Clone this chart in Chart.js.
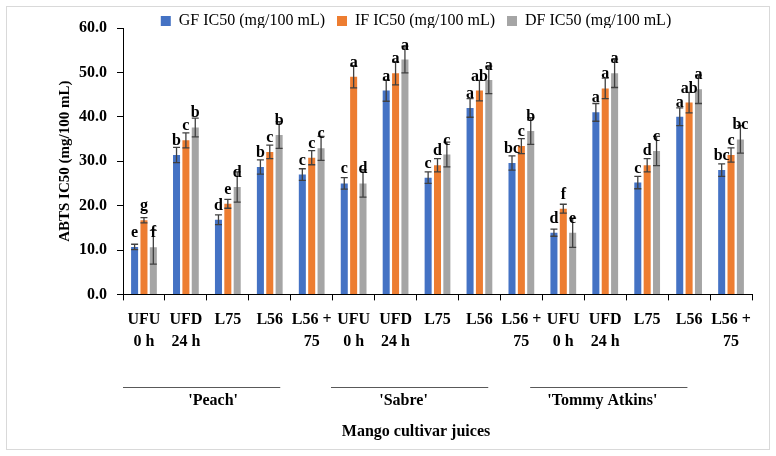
<!DOCTYPE html>
<html>
<head>
<meta charset="utf-8">
<script src="https://cdn.jsdelivr.net/npm/chart.js@4/dist/chart.umd.min.js"></script>
<style>
  html, body { margin: 0; padding: 0; background: #ffffff; }
  #wrap { width: 776px; height: 456px; position: relative; }
</style>
</head>
<body>
<div id="wrap"><canvas id="c" width="776" height="456"></canvas></div>
<script>
// ---- Data ----
const categories = [
  ['UFU', '0 h'], ['UFD', '24 h'], 'L75', 'L56', ['L56 +', '75'],
  ['UFU', '0 h'], ['UFD', '24 h'], 'L75', 'L56', ['L56 +', '75'],
  ['UFU', '0 h'], ['UFD', '24 h'], 'L75', 'L56', ['L56 +', '75']
];
const cultivars = ["'Peach'", "'Sabre'", "'Tommy Atkins'"];
const seriesNames = ['GF IC50 (mg/100 mL)', 'IF IC50 (mg/100 mL)', 'DF IC50 (mg/100 mL)'];

const gfValues = [10.7, 31.4, 16.8, 28.7, 27.0, 25.0, 45.9, 26.3, 42.0, 29.6, 13.9, 41.0, 25.2, 40.0, 28.0];
const ifValues = [16.7, 34.7, 20.4, 32.1, 30.8, 49.0, 49.8, 29.1, 45.9, 33.4, 19.3, 46.4, 29.1, 43.2, 31.4];
const dfValues = [10.6, 37.6, 24.2, 35.9, 32.9, 25.0, 52.9, 31.5, 48.3, 36.8, 13.9, 49.8, 32.3, 46.2, 34.9];

const gfErrors = [0.6, 1.7, 1.1, 1.6, 1.3, 1.3, 2.4, 1.3, 2.1, 1.6, 0.8, 2.0, 1.4, 2.0, 1.4];
const ifErrors = [0.6, 1.7, 1.0, 1.5, 1.6, 2.5, 2.6, 1.5, 2.3, 1.7, 1.0, 2.3, 1.5, 2.3, 1.6];
const dfErrors = [3.8, 2.1, 3.4, 3.0, 2.7, 3.1, 3.0, 2.8, 3.1, 3.0, 3.3, 3.2, 3.3, 3.2, 3.1];

const gfLetters = ['e', 'b', 'd', 'b', 'c', 'c', 'a', 'c', 'a', 'bc', 'd', 'a', 'c', 'a', 'bc'];
const ifLetters = ['g', 'c', 'e', 'c', 'c', 'a', 'a', 'd', 'ab', 'c', 'f', 'a', 'd', 'ab', 'c'];
const dfLetters = ['f', 'b', 'd', 'b', 'c', 'd', 'a', 'c', 'a', 'b', 'e', 'a', 'c', 'a', 'bc'];

const yTicks = [0, 10, 20, 30, 40, 50, 60];

// ---- Styling ----
const FONT = "'Liberation Serif', 'Times New Roman', serif";
Chart.defaults.font.family = FONT;
Chart.defaults.color = '#000000';

const errorSets = [gfErrors, ifErrors, dfErrors];
const letterSets = [gfLetters, ifLetters, dfLetters];

// Frame + white background
const framePlugin = {
  id: 'frame',
  beforeDraw(chart) {
    const ctx = chart.ctx;
    ctx.save();
    ctx.fillStyle = '#ffffff';
    ctx.fillRect(0, 0, chart.width, chart.height);
    ctx.strokeStyle = '#d9d9d9';
    ctx.lineWidth = 1;
    ctx.strokeRect(6.5, 6.5, chart.width - 13, chart.height - 13);
    ctx.restore();
  }
};

// Error bars and significance letters, positioned through the chart's scales
const errorPlugin = {
  id: 'errorBars',
  afterDatasetsDraw(chart) {
    const ctx = chart.ctx;
    const yScale = chart.scales.y;
    ctx.save();
    chart.data.datasets.forEach((ds, di) => {
      const meta = chart.getDatasetMeta(di);
      meta.data.forEach((bar, i) => {
        const v = ds.data[i];
        const e = errorSets[di][i];
        const x = bar.x;
        const yHi = yScale.getPixelForValue(v + e);
        const yLo = yScale.getPixelForValue(v - e);
        ctx.strokeStyle = '#404040';
        ctx.lineWidth = 1.3;
        ctx.beginPath();
        ctx.moveTo(x, yHi); ctx.lineTo(x, yLo);
        ctx.moveTo(x - 3.5, yHi); ctx.lineTo(x + 3.5, yHi);
        ctx.moveTo(x - 3.5, yLo); ctx.lineTo(x + 3.5, yLo);
        ctx.stroke();
      });
    });
    ctx.fillStyle = '#000000';
    ctx.font = "bold 16px " + FONT;
    ctx.textAlign = 'center';
    ctx.textBaseline = 'alphabetic';
    chart.data.datasets.forEach((ds, di) => {
      const meta = chart.getDatasetMeta(di);
      meta.data.forEach((bar, i) => {
        ctx.fillText(letterSets[di][i], bar.x, bar.y - 10);
      });
    });
    ctx.restore();
  }
};

// Cultivar group lines and names under the category labels
const groupPlugin = {
  id: 'groups',
  afterDraw(chart) {
    const ctx = chart.ctx;
    const xs = chart.scales.x;
    const base = chart.chartArea.bottom;
    const spans = [[-0.5, 3.25], [4.46, 8.21], [9.21, 12.96]];
    const centers = [1.65, 6.19, 10.93];
    ctx.save();
    ctx.strokeStyle = '#595959';
    ctx.lineWidth = 1;
    ctx.fillStyle = '#000000';
    ctx.font = "bold 16px " + FONT;
    ctx.textAlign = 'center';
    ctx.textBaseline = 'middle';
    cultivars.forEach((name, g) => {
      const x1 = xs.getPixelForValue(spans[g][0]);
      const x2 = xs.getPixelForValue(spans[g][1]);
      const ly = Math.round(base + 93) + 0.5;
      ctx.beginPath();
      ctx.moveTo(x1, ly); ctx.lineTo(x2, ly);
      ctx.stroke();
      ctx.fillText(name, xs.getPixelForValue(centers[g]), base + 106);
    });
    ctx.restore();
  }
};

new Chart(document.getElementById('c'), {
  type: 'bar',
  data: {
    labels: categories,
    datasets: [
      { label: seriesNames[0], data: gfValues, backgroundColor: '#4472C4' },
      { label: seriesNames[1], data: ifValues, backgroundColor: '#ED7D31' },
      { label: seriesNames[2], data: dfValues, backgroundColor: '#A5A5A5' }
    ]
  },
  options: {
    responsive: false,
    animation: false,
    devicePixelRatio: 1,
    layout: { padding: { left: 56, right: 0, top: 1, bottom: 11 } },
    datasets: { bar: { categoryPercentage: 0.67, barPercentage: 0.75 } },
    plugins: {
      legend: {
        position: 'top',
        maxHeight: 27,
        labels: {
          boxWidth: 10, boxHeight: 10, padding: 12,
          font: { size: 16, family: FONT }, color: '#000000'
        }
      },
      title: {
        display: true,
        position: 'bottom',
        text: 'Mango cultivar juices',
        font: { size: 16, weight: 'bold', family: FONT, lineHeight: 1.2 },
        padding: { top: 4, bottom: 4 },
        color: '#000000'
      },
      tooltip: { enabled: false }
    },
    scales: {
      x: {
        grid: { display: true, drawOnChartArea: false, drawTicks: true, tickLength: 6, color: '#000000', offset: true },
        border: { display: true, color: '#000000', width: 1 },
        ticks: {
          autoSkip: false, maxRotation: 0, minRotation: 0, padding: 8,
          font: { size: 16, weight: 'bold', family: FONT, lineHeight: 1.4 }, color: '#000000'
        },
        afterFit(s) { s.height = 123.4; }
      },
      y: {
        min: 0, max: 60,
        afterBuildTicks(s) { s.ticks = yTicks.map(v => ({ value: v })); },
        grid: { display: true, drawOnChartArea: false, drawTicks: true, tickLength: 6, color: '#000000' },
        border: { display: true, color: '#000000', width: 1 },
        ticks: {
          padding: 10,
          font: { size: 16, weight: 'bold', family: FONT }, color: '#000000',
          callback: v => Number(v).toFixed(1)
        },
        title: {
          display: true, text: 'ABTS IC50 (mg/100 mL)',
          font: { size: 15, weight: 'bold', family: FONT, lineHeight: 1.2 },
          padding: { top: 0, bottom: 0 }, color: '#000000'
        },
        afterFit(s) { s.width = 67; }
      },
      yRight: {
        position: 'right',
        display: true,
        grid: { display: false },
        border: { display: false },
        ticks: { display: false },
        afterFit(s) { s.width = 24; }
      }
    }
  },
  plugins: [framePlugin, errorPlugin, groupPlugin]
});
</script>
</body>
</html>
